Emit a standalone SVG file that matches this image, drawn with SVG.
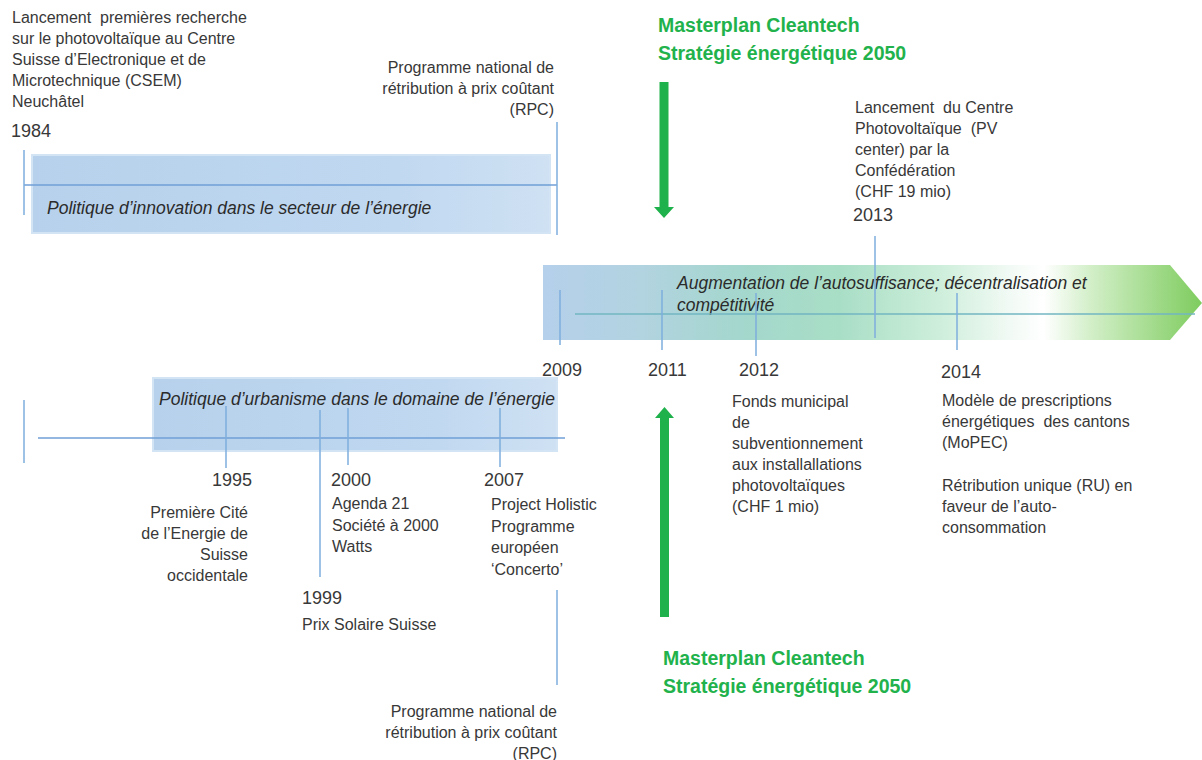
<svg xmlns="http://www.w3.org/2000/svg" width="1202" height="760" viewBox="0 0 1202 760">
  <style>
    text { white-space: pre; }
    .t { font-family: "Liberation Sans", Arial, sans-serif; font-size: 16px; fill: #383838; }
    .yr { font-family: "Liberation Sans", Arial, sans-serif; font-size: 18px; fill: #383838; }
    .it { font-family: "Liberation Sans", Arial, sans-serif; font-size: 17.5px; font-style: italic; fill: #2b2b2b; }
    .gr { font-family: "Liberation Sans", Arial, sans-serif; font-size: 19.5px; font-weight: bold; fill: #22b24c; }
    .r { text-anchor: end; }
    .tick { stroke: #7eaedc; stroke-width: 1.5; fill: none; }
    .axis { stroke: #6f9fd6; stroke-width: 1.5; fill: none; }
  </style>
  <defs>
    <linearGradient id="bandBlue" x1="0" y1="0" x2="1" y2="0">
      <stop offset="0" stop-color="#b7d1ec"/>
      <stop offset="0.7" stop-color="#c0d8f0"/>
      <stop offset="1" stop-color="#cfe1f3"/>
    </linearGradient>
    <linearGradient id="bandMain" x1="543" y1="0" x2="1202" y2="0" gradientUnits="userSpaceOnUse">
      <stop offset="0" stop-color="#b5d0eb"/>
      <stop offset="0.15" stop-color="#b2d3e0"/>
      <stop offset="0.3" stop-color="#a4d7cd"/>
      <stop offset="0.45" stop-color="#a9dec6"/>
      <stop offset="0.6" stop-color="#cdeeda"/>
      <stop offset="0.71" stop-color="#f2faf5"/>
      <stop offset="0.76" stop-color="#ffffff"/>
      <stop offset="0.83" stop-color="#d3efc9"/>
      <stop offset="1" stop-color="#7ecc5e"/>
    </linearGradient>
  </defs>

  <!-- bands -->
  <g id="band-innovation">
    <rect x="32" y="155" width="518" height="78" fill="url(#bandBlue)" stroke="#d3e4f5" stroke-width="2"/>
    <text class="it" x="47" y="214">Politique d’innovation dans le secteur de l’énergie</text>
  </g>
  <g id="band-urbanisme">
    <rect x="153" y="378" width="404" height="73" fill="url(#bandBlue)" stroke="#d3e4f5" stroke-width="2"/>
    <text class="it" x="159" y="405">Politique d’urbanisme dans le domaine de l’énergie</text>
  </g>
  <g id="band-autosuffisance">
    <path d="M543 265 H1170 L1202 303 L1170 340 H543 Z" fill="url(#bandMain)"/>
    <text class="it" x="677" y="289">Augmentation de l’autosuffisance; décentralisation et</text>
    <text class="it" x="677" y="311">compétitivité</text>
  </g>

  <!-- axes and ticks -->
  <g id="connectors">
    <line class="axis" x1="24" y1="185" x2="557" y2="185"/>
    <line class="tick" x1="24" y1="150" x2="24" y2="215"/>
    <line class="tick" x1="557" y1="122" x2="557" y2="235"/>

    <line x1="575" y1="314" x2="1195" y2="314" stroke="#72b6c2" stroke-width="1.5"/>
    <line class="tick" x1="560" y1="290" x2="560" y2="345"/>
    <line class="tick" x1="662" y1="290" x2="662" y2="350"/>
    <line class="tick" x1="756" y1="293" x2="756" y2="356"/>
    <line class="tick" x1="875" y1="236" x2="875" y2="338"/>
    <line class="tick" x1="957" y1="293" x2="957" y2="350"/>

    <line class="axis" x1="38" y1="438" x2="565" y2="438"/>
    <line class="tick" x1="24" y1="400" x2="24" y2="463"/>
    <line class="tick" x1="226" y1="406" x2="226" y2="468"/>
    <line class="tick" x1="320" y1="410" x2="320" y2="577"/>
    <line class="tick" x1="348" y1="408" x2="348" y2="465"/>
    <line class="tick" x1="500" y1="408" x2="500" y2="467"/>
    <line class="tick" x1="557" y1="590" x2="557" y2="685"/>

    <!-- green arrows -->
    <path d="M659.5 82 H668.5 V207 H674 L664 218 L654 207 H659.5 Z" fill="#1fb14b"/>
    <path d="M660 617 H669 V418 H674 L664.5 407 L655 418 H660 Z" fill="#1fb14b"/>
  </g>

  <!-- event labels -->
  <g id="ev-1984">
    <text class="t" x="12" y="23">Lancement  premières recherche</text>
    <text class="t" x="12" y="44">sur le photovoltaïque au Centre</text>
    <text class="t" x="12" y="65">Suisse d’Electronique et de</text>
    <text class="t" x="12" y="86">Microtechnique (CSEM)</text>
    <text class="t" x="12" y="107">Neuchâtel</text>
    <text class="yr" x="11" y="137">1984</text>
  </g>
  <g id="ev-rpc-top">
    <text class="t r" x="554" y="73">Programme national de</text>
    <text class="t r" x="554" y="94">rétribution à prix coûtant</text>
    <text class="t r" x="554" y="115">(RPC)</text>
  </g>
  <g id="masterplan-top">
    <text class="gr" x="658" y="32">Masterplan Cleantech</text>
    <text class="gr" x="658" y="60">Stratégie énergétique 2050</text>
  </g>
  <g id="ev-2013">
    <text class="t" x="855" y="113">Lancement  du Centre</text>
    <text class="t" x="855" y="134">Photovoltaïque  (PV</text>
    <text class="t" x="855" y="155">center) par la</text>
    <text class="t" x="855" y="176">Confédération</text>
    <text class="t" x="855" y="197">(CHF 19 mio)</text>
    <text class="yr" x="853" y="221">2013</text>
  </g>
  <g id="ev-2009"><text class="yr" x="542" y="376">2009</text></g>
  <g id="ev-2011"><text class="yr" x="648" y="376">2011</text></g>
  <g id="ev-2012">
    <text class="yr" x="739" y="376">2012</text>
    <text class="t" x="732" y="407">Fonds municipal</text>
    <text class="t" x="732" y="428">de</text>
    <text class="t" x="732" y="449">subventionnement</text>
    <text class="t" x="732" y="470">aux installallations</text>
    <text class="t" x="732" y="491">photovoltaïques</text>
    <text class="t" x="732" y="512">(CHF 1 mio)</text>
  </g>
  <g id="ev-2014">
    <text class="yr" x="941" y="378">2014</text>
    <text class="t" x="942" y="406">Modèle de prescriptions</text>
    <text class="t" x="942" y="427">énergétiques  des cantons</text>
    <text class="t" x="942" y="448">(MoPEC)</text>
    <text class="t" x="942" y="491">Rétribution unique (RU) en</text>
    <text class="t" x="942" y="512">faveur de l’auto-</text>
    <text class="t" x="942" y="533">consommation</text>
  </g>
  <g id="ev-1995">
    <text class="yr" x="212" y="486">1995</text>
    <text class="t r" x="248" y="518">Première Cité</text>
    <text class="t r" x="248" y="539">de l’Energie de</text>
    <text class="t r" x="248" y="560">Suisse</text>
    <text class="t r" x="248" y="581">occidentale</text>
  </g>
  <g id="ev-2000">
    <text class="yr" x="331" y="486">2000</text>
    <text class="t" x="332" y="509">Agenda 21</text>
    <text class="t" x="332" y="531">Société à 2000</text>
    <text class="t" x="332" y="552">Watts</text>
  </g>
  <g id="ev-2007">
    <text class="yr" x="484" y="486">2007</text>
    <text class="t" x="491" y="510">Project Holistic</text>
    <text class="t" x="491" y="532">Programme</text>
    <text class="t" x="491" y="553">européen</text>
    <text class="t" x="491" y="575">‘Concerto’</text>
  </g>
  <g id="ev-1999">
    <text class="yr" x="302" y="604">1999</text>
    <text class="t" x="302" y="630">Prix Solaire Suisse</text>
  </g>
  <g id="ev-rpc-bottom">
    <text class="t r" x="557" y="717">Programme national de</text>
    <text class="t r" x="557" y="738">rétribution à prix coûtant</text>
    <text class="t r" x="557" y="759">(RPC)</text>
  </g>
  <g id="masterplan-bottom">
    <text class="gr" x="663" y="665">Masterplan Cleantech</text>
    <text class="gr" x="663" y="693">Stratégie énergétique 2050</text>
  </g>
</svg>
